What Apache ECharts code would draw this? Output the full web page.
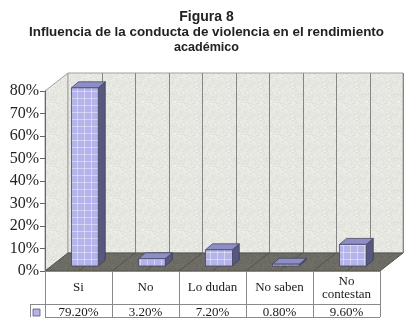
<!DOCTYPE html>
<html><head><meta charset="utf-8">
<script src="https://cdn.jsdelivr.net/npm/echarts@6/dist/echarts.min.js"></script>
<style>html,body{margin:0;padding:0;background:#fff}#c{width:413px;height:332px}</style>
</head><body><div id="c"></div>
<script>
// ---- data ----
const titleLines = ['Figura 8', 'Influencia de la conducta de violencia en el rendimiento', 'académico'];
const categories = ['Si', 'No', 'Lo dudan', 'No saben', 'No\ncontestan'];
const values = [79.2, 3.2, 7.2, 0.8, 9.6];
const valueLabels = ['79.20%', '3.20%', '7.20%', '0.80%', '9.60%'];
const yMin = 0, yMax = 80, yStep = 10;

// ---- style / layout ----
const DX = 23, DY = -18;          // depth of the 3D box (back wall offset)
const BAR_FDY = -5, BAR_FDX = 5 * 23 / 18; // bar front-face offset from front plane
const BAR_DX = 7, BAR_DY = -6;    // bar depth
const serif = '"Liberation Serif", "Times New Roman", serif';
const sans = '"Liberation Sans", Arial, sans-serif';
const tableLine = '#8a8a8a';

function makePattern() {
  const c = document.createElement('canvas');
  c.width = 7; c.height = 7;
  const g = c.getContext('2d');
  g.fillStyle = '#b4b4ea'; g.fillRect(0, 0, 7, 7);
  g.fillStyle = 'rgba(255,255,255,0.4)';
  g.fillRect(0, 0, 7, 1); g.fillRect(0, 0, 1, 7);
  return c;
}
function makeNoise(base, amp, seedStart) {
  const c = document.createElement('canvas');
  c.width = 32; c.height = 32;
  const g = c.getContext('2d');
  const img = g.createImageData(32, 32);
  let s = seedStart;
  for (let i = 0; i < 32 * 32; i++) {
    s = (s * 1103515245 + 12345) & 0x7fffffff;
    const d = ((s >> 8) % (2 * amp + 1)) - amp;
    img.data[i * 4] = base[0] + d; img.data[i * 4 + 1] = base[1] + d;
    img.data[i * 4 + 2] = base[2] + d; img.data[i * 4 + 3] = 255;
  }
  g.putImageData(img, 0, 0);
  return c;
}
const barPattern = { image: makePattern(), repeat: 'repeat' };
const wallPattern = { image: makeNoise([231, 231, 226], 8, 7), repeat: 'repeat' };
const floorPattern = { image: makeNoise([108, 108, 100], 6, 13), repeat: 'repeat' };

const chart = echarts.init(document.getElementById('c'), null, { renderer: 'canvas' });

function renderBackground(params, api) {
  const band = api.size([1, 0])[0];
  const n = categories.length;
  const L = api.coord([0, yMin])[0] - band / 2;
  const R = api.coord([n - 1, yMin])[0] + band / 2;
  const B = api.coord([0, yMin])[1];
  const T = api.coord([0, yMax])[1];
  const ch = [];
  ch.push({ type: 'polygon', shape: { points: [[L, T], [L + DX, T + DY], [L + DX, B + DY], [L, B]] },
    style: { fill: wallPattern, stroke: '#a0a0a0', lineWidth: 1 } });
  ch.push({ type: 'rect', shape: { x: L + DX, y: T + DY, width: R - L, height: B - T },
    style: { fill: wallPattern, stroke: '#a0a0a0', lineWidth: 1 } });
  for (let k = 1; k <= 2 * n; k++) {
    const x = Math.round(L + DX + k * band / 2) + 0.5;
    ch.push({ type: 'line', shape: { x1: x, y1: T + DY, x2: x, y2: B + DY },
      style: { stroke: '#858585', lineWidth: 1 } });
  }
  ch.push({ type: 'polygon', shape: { points: [[L, B], [L + DX, B + DY], [R + DX, B + DY], [R, B]] },
    style: { fill: floorPattern, stroke: '#55554f', lineWidth: 1 } });
  for (let k = 1; k < 2 * n; k++) {
    const x = L + k * band / 2;
    ch.push({ type: 'line', shape: { x1: x, y1: B, x2: x + DX, y2: B + DY },
      style: { stroke: '#4e4e48', lineWidth: 0.8 } });
  }
  const r2 = B + 33, r3 = B + 46;
  ch.push({ type: 'line', shape: { x1: L - 15, y1: r2 + 0.5, x2: R, y2: r2 + 0.5 }, style: { stroke: tableLine, lineWidth: 1 } });
  ch.push({ type: 'line', shape: { x1: L - 15 + 0.5, y1: r2, x2: L - 15 + 0.5, y2: r3 }, style: { stroke: tableLine, lineWidth: 1 } });
  ch.push({ type: 'rect', shape: { x: L - 12, y: r2 + 5, width: 7, height: 7 },
    style: { fill: '#b3b3ea', stroke: '#55557a', lineWidth: 0.8 } });
  return { type: 'group', children: ch };
}

function renderBar(params, api) {
  const i = api.value(0), v = api.value(1);
  const band = api.size([1, 0])[0];
  const base = api.coord([i, yMin]);
  const top = api.coord([i, v]);
  const w = band * 0.4;
  const x0 = base[0] - w / 2 + BAR_FDX;
  const yb = base[1] + BAR_FDY;
  const yt = top[1] + BAR_FDY;
  const L = base[0] - band / 2, R = base[0] + band / 2;
  const B = base[1];
  const ch = [];
  ch.push({ type: 'polygon', shape: { points: [[x0 + w, yt], [x0 + w, yb], [x0 + w + BAR_DX, yb + BAR_DY], [x0 + w + BAR_DX, yt + BAR_DY]] },
    style: { fill: '#58587e', stroke: '#3a3a55', lineWidth: 0.7 } });
  ch.push({ type: 'polygon', shape: { points: [[x0, yt], [x0 + w, yt], [x0 + w + BAR_DX, yt + BAR_DY], [x0 + BAR_DX, yt + BAR_DY]] },
    style: { fill: '#8e8ec6', stroke: '#3a3a55', lineWidth: 0.7 } });
  ch.push({ type: 'rect', shape: { x: x0, y: yt, width: w, height: yb - yt },
    style: { fill: barPattern, stroke: '#3a3a55', lineWidth: 0.7 } });
  ch.push({ type: 'text', style: { text: valueLabels[i], x: base[0], y: B + 42, align: 'center', verticalAlign: 'middle',
    font: '13px ' + serif, fill: '#1a1a1a' } });
  ch.push({ type: 'rect', shape: { x: L + 1, y: B + 46.5, width: R - L - 1, height: 20 }, style: { fill: '#fff' } });
  ch.push({ type: 'line', shape: { x1: L, y1: B + 46.5, x2: R, y2: B + 46.5 }, style: { stroke: tableLine, lineWidth: 1 } });
  return { type: 'group', children: ch };
}

chart.setOption({
  animation: false,
  backgroundColor: '#fff',
  title: {
    text: '{a|' + titleLines[0] + '}\n{b|' + titleLines[1] + '}\n{c|' + titleLines[2] + '}',
    left: 'center', top: 4,
    textStyle: {
      fontFamily: sans, fontWeight: 'bold', color: '#222',
      rich: {
        a: { fontFamily: sans, fontWeight: 'bold', color: '#222', fontSize: 14, lineHeight: 15.5, align: 'center' },
        b: { fontFamily: sans, fontWeight: 'bold', color: '#222', fontSize: 13.4, lineHeight: 15.5, align: 'center' },
        c: { fontFamily: sans, fontWeight: 'bold', color: '#222', fontSize: 12.6, lineHeight: 15.5, align: 'center' }
      }
    }
  },
  grid: { left: 45, right: 33, top: 91, bottom: 61, outerBoundsMode: 'none' },
  xAxis: {
    type: 'category', data: categories, boundaryGap: true, z: 10,
    axisLine: { show: true, lineStyle: { color: tableLine, width: 1 } },
    axisTick: { show: true, length: 46, interval: 0, lineStyle: { color: tableLine, width: 1 } },
    axisLabel: { interval: 0, margin: 17, verticalAlign: 'middle', lineHeight: 13,
      fontFamily: serif, fontSize: 13, color: '#1a1a1a' },
    splitLine: { show: false }
  },
  yAxis: {
    type: 'value', min: yMin, max: yMax, interval: yStep, z: 10,
    axisLine: { show: true, lineStyle: { color: '#666', width: 1 } },
    axisTick: { show: true, length: 5, lineStyle: { color: '#666' } },
    axisLabel: { formatter: '{value}%', margin: 6, fontFamily: serif, fontSize: 16, color: '#222' },
    splitLine: { show: false }
  },
  series: [
    { type: 'custom', z: 1, renderItem: renderBackground, data: [[0, 0]], silent: true },
    { type: 'custom', z: 5, renderItem: renderBar, data: values.map((v, i) => [i, v]), silent: true }
  ]
});
</script>
</body></html>
